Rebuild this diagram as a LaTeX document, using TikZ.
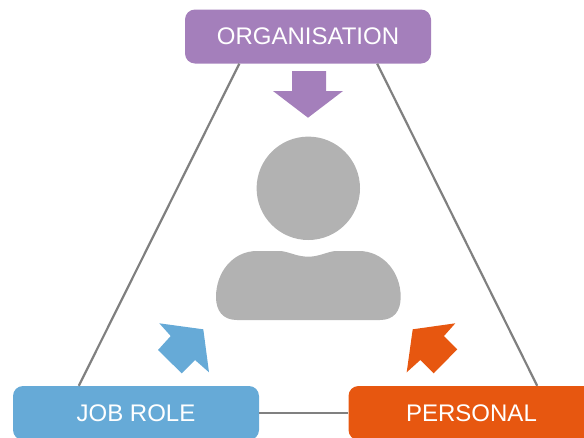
\documentclass[tikz,border=0pt]{standalone}
\usepackage{fontspec}
\setmainfont{Liberation Sans}
\definecolor{orgpurple}{HTML}{A47FBB}
\definecolor{jobblue}{HTML}{66AAD7}
\definecolor{persorange}{HTML}{E75710}
\definecolor{persongray}{HTML}{B2B2B2}
\tikzset{box/.style={rounded corners=10pt, minimum width=246pt, minimum height=54pt, inner sep=0pt, text=white, font=\fontsize{24}{24}\selectfont}}
\tikzset{line/.style={line width=2.2pt, black!50}}

\begin{document}
\begin{tikzpicture}[x=1pt,y=-1pt]
\path[use as bounding box, clip] (0,0) rectangle (584,437);
\node[box, fill=orgpurple] (org) at (308,36.5) {ORGANISATION};
\node[box, fill=jobblue] (job) at (136,413) {JOB ROLE};
\node[box, fill=persorange] (pers) at (471.5,413) {PERSONAL};
\draw[line] ([xshift=54.5pt]org.south west) -- ([xshift=66pt]job.north west);
\draw[line] ([xshift=-54pt]org.south east) -- ([xshift=-57.5pt]pers.north east);
\draw[line] (job) -- (pers);
% arrows
\fill[orgpurple] (292,71) -- (326,71) -- (326,91) -- (343,91) -- (308,117.7) -- (273,91) -- (292,91) -- cycle;
\fill[jobblue] (159.3,323.3) -- (203.3,329.3) -- (209,372.3) -- (195,360) -- (181.7,373.3) -- (158,350) -- (170.7,336) -- cycle;
\fill[persorange] (455.3,323.3) -- (412.7,329.3) -- (406.7,372.3) -- (420.3,360) -- (433.7,373.3) -- (457.3,349.3) -- (444,336) -- cycle;
% person
\fill[persongray] (308.3,188.3) circle (51.7pt);
\fill[persongray] (257,251) -- (279,251) .. controls (288,251) and (296,256.7) .. (308.3,256.7) .. controls (320,256.7) and (328,251) .. (337,251) -- (359,251) .. controls (383,251) and (400.7,272) .. (400.7,297) .. controls (400.7,311) and (394,320) .. (380,320) -- (237,320) .. controls (223,320) and (216,311) .. (216,297) .. controls (216,272) and (233,251) .. (257,251) -- cycle;
\end{tikzpicture}
\end{document}
